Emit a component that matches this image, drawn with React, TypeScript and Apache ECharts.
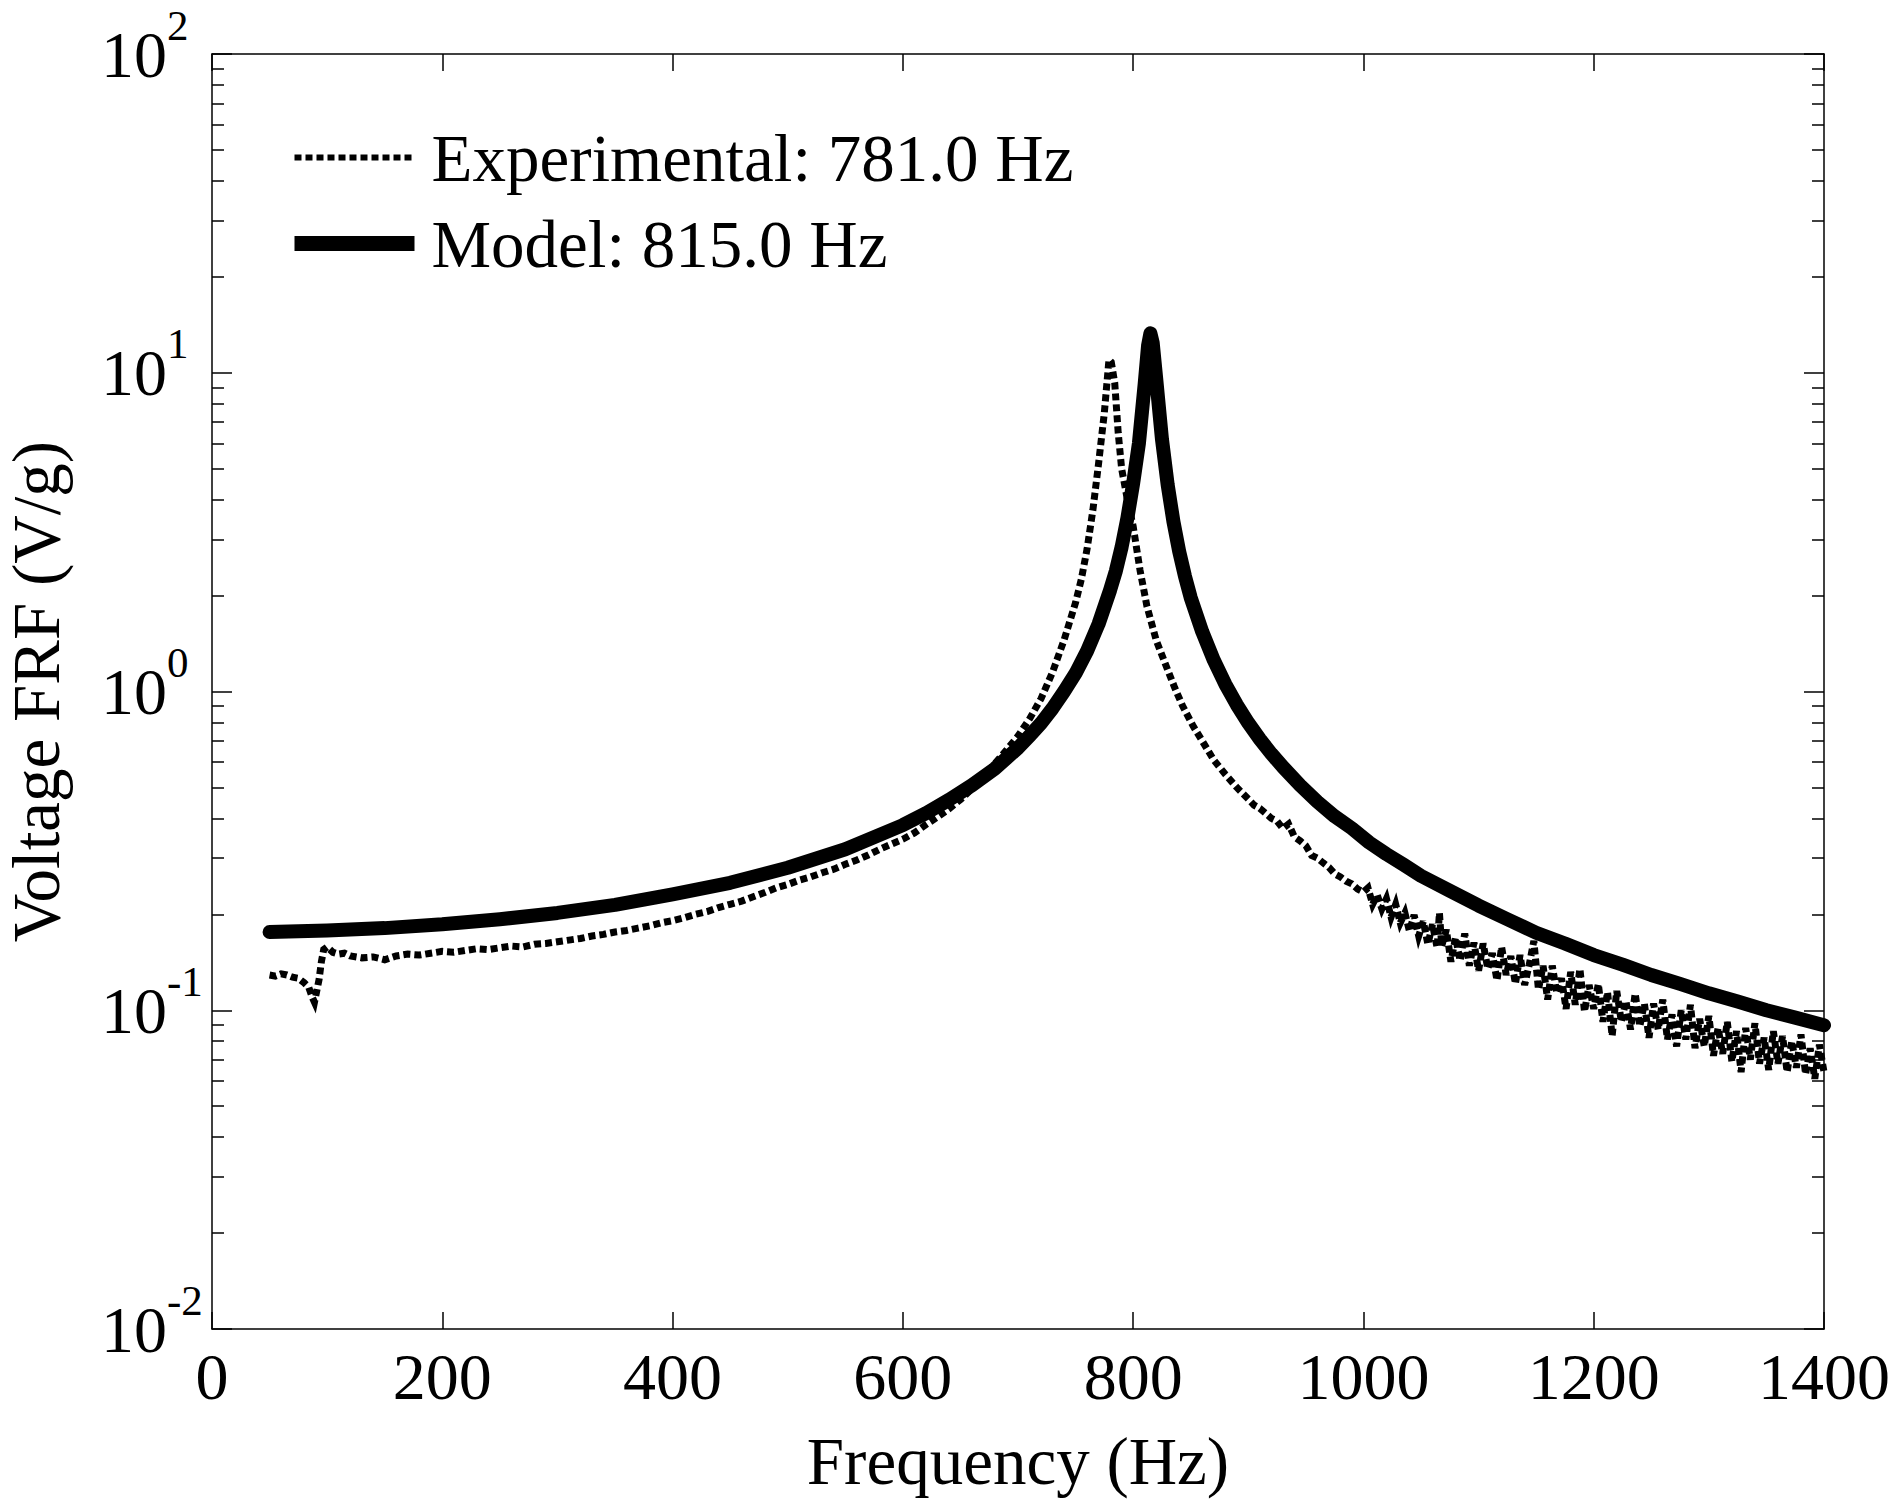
import React, { useEffect, useRef } from "react";
import * as echarts from "echarts";

const FONT = '"Liberation Serif", "Times New Roman", Times, serif';

const SERIES_NAMES = ["Experimental: 781.0 Hz", "Model: 815.0 Hz"];
const X_TITLE = "Frequency (Hz)";
const Y_TITLE = "Voltage FRF (V/g)";

const X_MIN = 0;
const X_MAX = 1400;
const X_INTERVAL = 200;
const Y_MIN = 0.01;
const Y_MAX = 100;
const Y_MINOR_SPLIT = 9;

const EXP_FREQ = [
  50, 55, 60, 65, 70, 75, 80, 84, 87, 89, 91, 93, 95, 97, 100, 105, 110, 115, 120, 130,
  140, 150, 160, 170, 180, 190, 200, 210, 220, 230, 240, 250, 260, 270, 280, 290, 300, 310, 320, 330,
  340, 350, 360, 370, 380, 390, 400, 410, 420, 430, 440, 450, 460, 470, 480, 490, 500, 510, 520, 530,
  540, 550, 560, 570, 580, 590, 600, 610, 620, 630, 640, 650, 660, 670, 680, 690, 700, 710, 720, 730,
  740, 750, 755, 760, 765, 770, 775, 779, 781, 784, 787, 790, 795, 800, 806, 812, 820, 828, 836, 843,
  852, 860, 870, 880, 890, 900, 905, 910, 915, 920, 925, 930, 935, 940, 945, 950, 955, 960, 965, 970,
  975, 980, 985, 990, 995,
  1000, 1004, 1008, 1012, 1016, 1020, 1024, 1028, 1032, 1036, 1040, 1044, 1048, 1052, 1056, 1060, 1064, 1066, 1068, 1072,
  1076, 1080, 1084, 1088, 1092, 1096, 1100, 1104, 1108, 1112, 1116, 1120, 1124, 1128, 1132, 1136, 1140, 1144, 1148, 1152,
  1156, 1160, 1164, 1168, 1172, 1176, 1180, 1184, 1188, 1192, 1196, 1200, 1204, 1208, 1212, 1216, 1220, 1224, 1228, 1232,
  1236, 1240, 1244, 1248, 1252, 1256, 1260, 1264, 1268, 1272, 1276, 1280, 1284, 1288, 1292, 1296, 1300, 1304, 1308, 1312,
  1316, 1320, 1324, 1328, 1332, 1336, 1340, 1344, 1348, 1352, 1356, 1360, 1364, 1368, 1372, 1376, 1380, 1384, 1388, 1392,
  1396, 1400,
];

const EXP_VAL = [
  0.129, 0.128, 0.130, 0.129, 0.127, 0.126, 0.122, 0.118, 0.110, 0.106, 0.115, 0.125, 0.142, 0.155, 0.158, 0.152, 0.150, 0.151, 0.148, 0.146,
  0.147, 0.144, 0.148, 0.150, 0.149, 0.151, 0.153, 0.152, 0.154, 0.156, 0.155, 0.157, 0.159, 0.158, 0.161, 0.162, 0.164, 0.166, 0.168, 0.171,
  0.173, 0.176, 0.178, 0.181, 0.184, 0.188, 0.191, 0.195, 0.200, 0.204, 0.210, 0.215, 0.220, 0.227, 0.234, 0.242, 0.248, 0.256, 0.262, 0.270,
  0.277, 0.287, 0.296, 0.307, 0.320, 0.332, 0.344, 0.360, 0.382, 0.404, 0.428, 0.458, 0.495, 0.540, 0.595, 0.655, 0.725, 0.820, 0.950, 1.15,
  1.45, 1.90, 2.25, 2.80, 3.70, 5.20, 7.50, 11.0, 10.8, 9.3, 6.5, 5.0, 4.0, 3.3, 2.4, 1.85, 1.45, 1.22, 1.03, 0.90,
  0.78, 0.70, 0.61, 0.55, 0.50, 0.46, 0.44, 0.43, 0.415, 0.40, 0.392, 0.372, 0.384, 0.350, 0.340, 0.328, 0.306, 0.300, 0.290, 0.281,
  0.268, 0.262, 0.254, 0.249, 0.240,
  0.235, 0.242, 0.215, 0.230, 0.208, 0.224, 0.196, 0.215, 0.188, 0.202, 0.177, 0.199, 0.171, 0.190, 0.161, 0.186, 0.157, 0.202, 0.159, 0.179,
  0.142, 0.169, 0.143, 0.174, 0.138, 0.163, 0.133, 0.162, 0.135, 0.151, 0.124, 0.158, 0.129, 0.148, 0.121, 0.149, 0.120, 0.139, 0.165, 0.116,
  0.138, 0.108, 0.138, 0.113, 0.126, 0.101, 0.132, 0.104, 0.135, 0.099, 0.120, 0.101, 0.121, 0.092, 0.114, 0.083, 0.115, 0.092, 0.107, 0.087,
  0.113, 0.089, 0.105, 0.082, 0.105, 0.087, 0.108, 0.081, 0.097, 0.077, 0.100, 0.081, 0.104, 0.076, 0.094, 0.077, 0.096, 0.072, 0.088, 0.073,
  0.092, 0.069, 0.086, 0.064, 0.088, 0.070, 0.091, 0.068, 0.082, 0.065, 0.086, 0.068, 0.083, 0.064, 0.080, 0.066, 0.084, 0.063, 0.076, 0.061,
  0.078, 0.064,
];

const MODEL_FREQ = [
  50, 100, 150, 200, 250, 300, 350, 400, 450, 500, 550, 600, 620, 640, 660, 680, 700, 710, 720, 730,
  740, 750, 760, 770, 780, 785, 790, 795, 800, 805, 810, 813, 815, 817, 820, 825, 830, 835, 840, 845,
  850, 860, 870, 880, 890, 900, 910, 920, 930, 945, 960, 975, 990, 1005, 1020, 1035, 1050, 1075, 1100, 1125,
  1150, 1175, 1200, 1225, 1250, 1275, 1300, 1325, 1350, 1375, 1400,
];

const MODEL_VAL = [
  0.176, 0.178, 0.181, 0.186, 0.193, 0.202, 0.214, 0.231, 0.251, 0.280, 0.320, 0.381, 0.415, 0.457, 0.508, 0.573, 0.665, 0.726, 0.795, 0.885,
  1.0, 1.14, 1.34, 1.63, 2.08, 2.39, 2.84, 3.5, 4.5, 6.0, 9.2, 12.2, 13.3, 12.4, 9.6, 6.2, 4.45, 3.41, 2.75, 2.30,
  1.97, 1.54, 1.255, 1.055, 0.909, 0.797, 0.709, 0.638, 0.58, 0.508, 0.451, 0.406, 0.372, 0.336, 0.309, 0.286, 0.264, 0.237, 0.213, 0.193,
  0.175, 0.162, 0.149, 0.139, 0.129, 0.121, 0.113, 0.1065, 0.100, 0.0948, 0.0897,
];

const BLACK = "#000000";

function zip(xs: number[], ys: number[]): number[][] {
  return xs.map((x, i) => [x, ys[i]]);
}

function buildOption(): any {
  const yLabelRich = {
    b: { fontFamily: FONT, fontSize: 66, lineHeight: 67, color: BLACK },
    s: { fontFamily: FONT, fontSize: 43, lineHeight: 30, padding: [0, 0, 58, 0], color: BLACK },
  };
  const axisLine = { show: true, onZero: false, lineStyle: { color: BLACK, width: 1.5 } };
  const commonY = {
    type: "log",
    logBase: 10,
    min: Y_MIN,
    max: Y_MAX,
    splitLine: { show: false },
    minorSplitLine: { show: false },
    axisLine,
    axisTick: { show: true, inside: true, length: 20, lineStyle: { color: BLACK, width: 1.5 } },
    minorTick: { show: true, splitNumber: Y_MINOR_SPLIT, length: 12, lineStyle: { color: BLACK, width: 1.5 } },
  };
  const commonX = {
    type: "value",
    min: X_MIN,
    max: X_MAX,
    interval: X_INTERVAL,
    splitLine: { show: false },
    axisLine,
    axisTick: { show: true, inside: true, length: 17, lineStyle: { color: BLACK, width: 1.5 } },
  };
  return {
    animation: false,
    backgroundColor: "#ffffff",
    grid: {
      left: 212,
      right: 79,
      top: 54,
      bottom: 181,
      containLabel: false,
      outerBoundsMode: "none",
    },
    legend: {
      show: true,
      orient: "vertical",
      left: 282,
      top: 114,
      itemWidth: 120,
      itemHeight: 15,
      itemGap: 9,
      selectedMode: false,
      textStyle: {
        fontFamily: FONT,
        fontSize: 67,
        lineHeight: 67,
        color: BLACK,
        padding: [10, 0, 0, 12],
      },
      data: [
        {
          name: SERIES_NAMES[0],
          itemStyle: { opacity: 0 },
          lineStyle: { color: BLACK, width: 6, type: [7, 4], cap: "butt", opacity: 1 },
        },
        {
          name: SERIES_NAMES[1],
          itemStyle: { opacity: 0 },
          lineStyle: { color: BLACK, width: 15, type: "solid", cap: "butt", opacity: 1 },
        },
      ],
    },
    xAxis: [
      {
        ...commonX,
        position: "bottom",
        name: X_TITLE,
        nameLocation: "middle",
        nameGap: 98,
        nameTextStyle: { fontFamily: FONT, fontSize: 67, lineHeight: 67, color: BLACK },
        axisLabel: {
          show: true,
          margin: 14,
          fontFamily: FONT,
          fontSize: 66,
          lineHeight: 67,
          color: BLACK,
          showMinLabel: true,
          showMaxLabel: true,
          formatter: (v: number) => String(v),
        },
      },
      {
        ...commonX,
        position: "top",
        axisLabel: { show: false },
      },
    ],
    yAxis: [
      {
        ...commonY,
        position: "left",
        name: Y_TITLE,
        nameLocation: "middle",
        nameGap: 143,
        nameRotate: 90,
        nameTextStyle: { fontFamily: FONT, fontSize: 67, lineHeight: 67, color: BLACK },
        axisLabel: {
          show: true,
          margin: 111,
          align: "left",
          formatter: (v: number) => {
            const e = Math.round(Math.log10(v));
            return `{b|10}{s|${e}}`;
          },
          rich: yLabelRich,
          showMinLabel: true,
          showMaxLabel: true,
        },
      },
      {
        ...commonY,
        position: "right",
        axisLabel: { show: false },
      },
    ],
    series: [
      {
        name: SERIES_NAMES[0],
        type: "line",
        xAxisIndex: 0,
        yAxisIndex: 0,
        data: zip(EXP_FREQ, EXP_VAL),
        symbol: "none",
        showSymbol: false,
        lineStyle: { color: BLACK, width: 7, type: [7, 4], cap: "butt", join: "miter" },
        itemStyle: { color: BLACK },
        z: 3,
      },
      {
        name: SERIES_NAMES[1],
        type: "line",
        xAxisIndex: 0,
        yAxisIndex: 0,
        data: zip(MODEL_FREQ, MODEL_VAL),
        symbol: "none",
        showSymbol: false,
        lineStyle: { color: BLACK, width: 14, type: "solid", cap: "round", join: "round" },
        itemStyle: { color: BLACK },
        z: 2,
      },
    ],
  };
}

export default function App() {
  const ref = useRef<HTMLDivElement>(null);
  useEffect(() => {
    document.body.style.margin = "0";
    const el = ref.current;
    if (!el) return;
    const chart = echarts.init(el, undefined, { renderer: "svg" });
    chart.setOption(buildOption());
    return () => {
      chart.dispose();
    };
  }, []);
  return <div ref={ref} style={{ width: 1903, height: 1510, background: "#ffffff" }} />;
}
